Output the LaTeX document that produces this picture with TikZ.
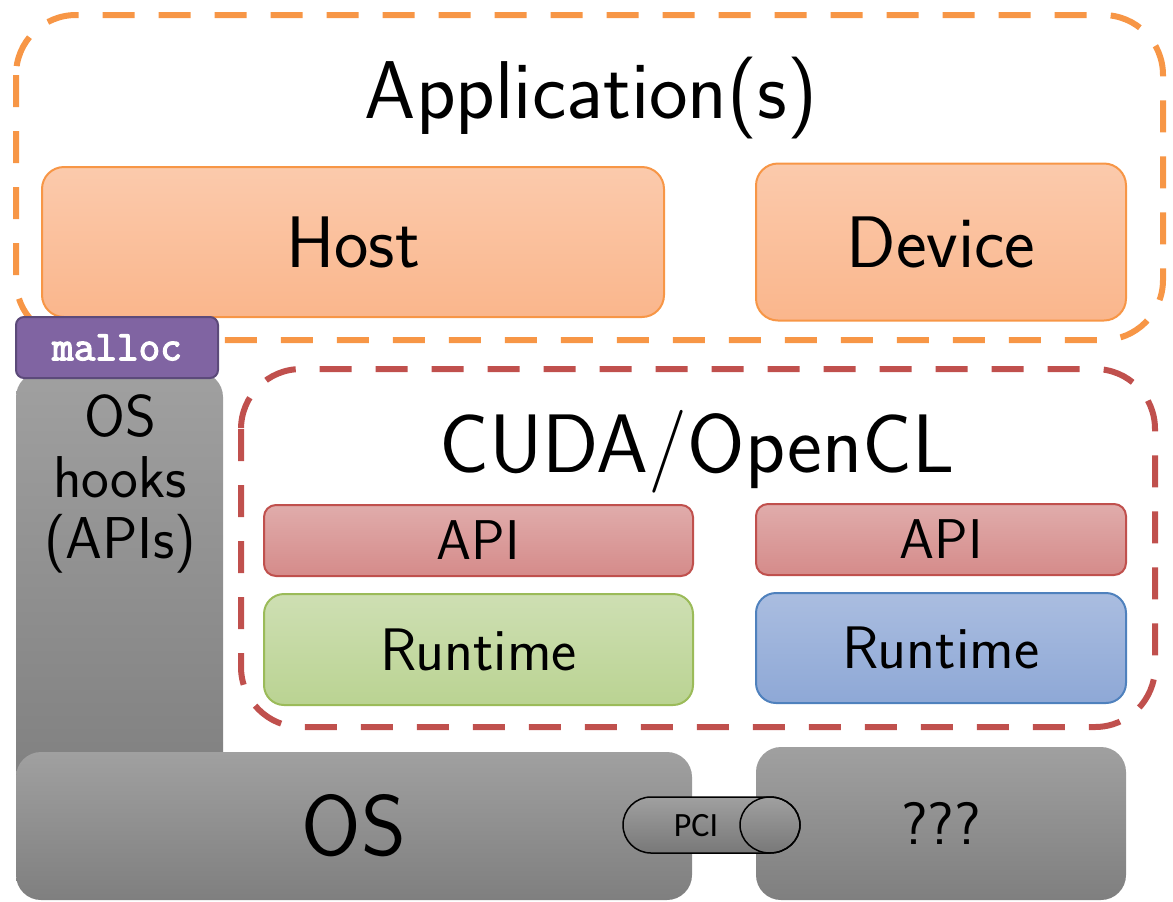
\documentclass[tikz,border=0pt]{standalone}
\usepackage{fontspec}
\newfontfamily\pcifont{Carlito}
\newfontfamily\mallocfont{Latin Modern Mono}[FakeBold=3]
\begin{document}
\begin{tikzpicture}[x=0.5pt,y=-0.5pt,
  box/.style={rounded corners=#1, line width=1pt, inner sep=0pt, font=\sffamily},
  hostbox/.style={box=11pt, draw={rgb,255:red,247;green,150;blue,70}, top color={rgb,255:red,251;green,202;blue,172}, bottom color={rgb,255:red,250;green,182;blue,140}},
  apibox/.style={box=6pt, draw={rgb,255:red,192;green,80;blue,77}, top color={rgb,255:red,224;green,172;blue,171}, bottom color={rgb,255:red,213;green,139;blue,138}},
  greenbox/.style={box=10pt, draw={rgb,255:red,155;green,187;blue,89}, top color={rgb,255:red,206;green,223;blue,179}, bottom color={rgb,255:red,186;green,211;blue,146}},
  bluebox/.style={box=10pt, draw={rgb,255:red,79;green,129;blue,189}, top color={rgb,255:red,170;green,189;blue,224}, bottom color={rgb,255:red,142;green,168;blue,214}},
  greybox/.style={box=12.5pt, top color={rgb,255:red,160;green,160;blue,160}, bottom color={rgb,255:red,127;green,127;blue,127}},
  dashframe/.style={rounded corners=30pt, line width=3pt, dash pattern=on 16pt off 12pt},
]
\useasboundingbox (0,0) rectangle (1173,901);

% Application frame
\draw[dashframe, draw={rgb,255:red,247;green,150;blue,70}] (16,15) rectangle (1163,340);
\node[anchor=base, font=\sffamily\fontsize{41}{41}\selectfont] (app) at (591,118) {Application(s)};
\node[hostbox, minimum width=311pt, minimum height=75pt, font=\sffamily\fontsize{36.5}{36.5}\selectfont] (host) at (353,242) {Host};
\node[hostbox, minimum width=185pt, minimum height=78.5pt, font=\sffamily\fontsize{36.5}{36.5}\selectfont] (device) at (941,242) {Device};

% OS hooks column
\node[greybox, minimum width=103.5pt, minimum height=214pt] (hooks) at (119.5,586) {};
\node[box=4pt, draw={rgb,255:red,92;green,74;blue,122}, fill={rgb,255:red,128;green,100;blue,162}, minimum width=101pt, minimum height=30.5pt, text=white, font=\mallocfont\fontsize{21}{21}\selectfont] (malloc) at (117,347.5) {malloc};
\node[anchor=base, align=center, font=\sffamily\fontsize{29.5}{30.5}\selectfont] (hookstext) at (120,558) {OS\\hooks\\(APIs)};

% CUDA/OpenCL frame
\draw[dashframe, draw={rgb,255:red,192;green,80;blue,77}] (241,369) rectangle (1155,727);
\node[anchor=base, font=\sffamily\fontsize{41.5}{41.5}\selectfont] (cuda) at (697,472) {CUDA/OpenCL};
\node[apibox, minimum width=214.5pt, minimum height=35.5pt, font=\sffamily\fontsize{28}{28}\selectfont] (apil) at (478.5,540.5) {API};
\node[apibox, minimum width=185pt, minimum height=35.5pt, font=\sffamily\fontsize{28}{28}\selectfont] (apir) at (941,539.5) {API};
\node[greenbox, minimum width=214.5pt, minimum height=55.5pt, font=\sffamily\fontsize{30}{30}\selectfont] (rtl) at (478.5,649.5) {Runtime};
\node[bluebox, minimum width=185pt, minimum height=55pt, font=\sffamily\fontsize{30}{30}\selectfont] (rtr) at (941,648) {Runtime};

% OS and device hardware
\node[greybox, minimum width=338pt, minimum height=74pt, font=\sffamily\fontsize{43}{43}\selectfont] (os) at (354,826) {OS};
\node[greybox, minimum width=185pt, minimum height=76.5pt, font=\sffamily\fontsize{30}{30}\selectfont] (unk) at (941,823.5) {???};

% PCI cylinder
\path[draw=black, line width=0.75pt, top color={rgb,255:red,160;green,160;blue,160}, bottom color={rgb,255:red,120;green,120;blue,120}]
  (651,797) -- (770,797) arc[start angle=90, end angle=-90, x radius=15pt, y radius=14pt]
  -- (651,853) arc[start angle=270, end angle=90, radius=14pt] -- cycle;
\draw[line width=0.75pt] (770,825) ellipse[x radius=15pt, y radius=14pt];
\node[font=\pcifont\fontsize{17}{17}\selectfont, inner sep=0pt] (pci) at (696,826) {PCI};
\end{tikzpicture}
\end{document}
